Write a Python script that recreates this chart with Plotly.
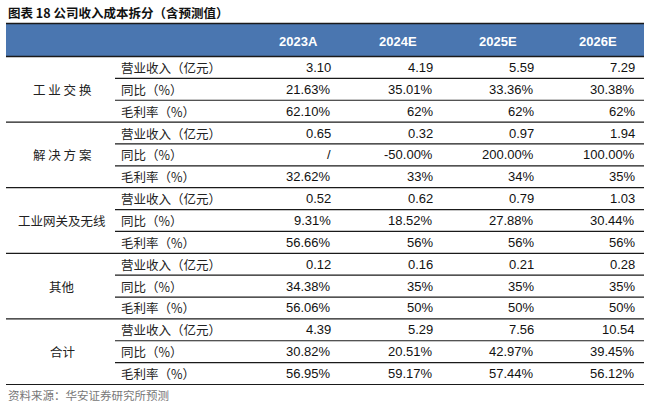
import plotly.graph_objects as go

title = "图表 18 公司收入成本拆分（含预测值）"
source = "资料来源：华安证券研究所预测"
years = ["2023A", "2024E", "2025E", "2026E"]
groups = ["工 业 交 换", "解 决 方 案", "工业网关及无线", "其他", "合计"]
metrics = ["营业收入（亿元）", "同比（%）", "毛利率（%）"]

ind_switch = [["3.10", "4.19", "5.59", "7.29"],
              ["21.63%", "35.01%", "33.36%", "30.38%"],
              ["62.10%", "62%", "62%", "62%"]]
solutions = [["0.65", "0.32", "0.97", "1.94"],
             ["/", "-50.00%", "200.00%", "100.00%"],
             ["32.62%", "33%", "34%", "35%"]]
gateway = [["0.52", "0.62", "0.79", "1.03"],
           ["9.31%", "18.52%", "27.88%", "30.44%"],
           ["56.66%", "56%", "56%", "56%"]]
others = [["0.12", "0.16", "0.21", "0.28"],
          ["34.38%", "35%", "35%", "35%"],
          ["56.06%", "50%", "50%", "50%"]]
total = [["4.39", "5.29", "7.56", "10.54"],
         ["30.82%", "20.51%", "42.97%", "39.45%"],
         ["56.95%", "59.17%", "57.44%", "56.12%"]]
group_data = [ind_switch, solutions, gateway, others, total]

W, H = 652, 406
left, right = 6, 644
hdr_top, hdr_bot = 23.5, 56.5
row_h = (384.5 - hdr_bot) / 15
val_x = [333, 435, 536, 637]
hdr_x = [320, 419, 519, 619]
grp_x = 62
met_x = 119
sub_left = 115

cjk = "Noto Sans CJK SC"
num = "Liberation Sans, Arial"

fig = go.Figure()
shapes = []
ann = []

# header bar
shapes.append(dict(type="rect", x0=left, x1=right, y0=hdr_top, y1=hdr_bot,
                   fillcolor="#4a76b0", line=dict(width=0), layer="below"))
shapes.append(dict(type="line", x0=left, x1=right, y0=hdr_top, y1=hdr_top,
                   line=dict(color="#1a1a1a", width=1.5)))
shapes.append(dict(type="line", x0=left, x1=right, y0=hdr_bot, y1=hdr_bot,
                   line=dict(color="#1a1a1a", width=1.5)))
for x, yr in zip(hdr_x, years):
    ann.append(dict(x=x, y=(hdr_top + hdr_bot) / 2 + 1, text=f"<b>{yr}</b>",
                    xanchor="right", yanchor="middle", showarrow=False,
                    font=dict(family=num, size=13, color="white")))

r = 0
for g, (gname, gdata) in enumerate(zip(groups, group_data)):
    g_top = hdr_bot + r * row_h
    ann.append(dict(x=grp_x, y=g_top + 1.5 * row_h, text=gname, xanchor="center",
                    yanchor="middle", showarrow=False,
                    font=dict(family=cjk, size=12.5, color="#222")))
    for m, (mname, vals) in enumerate(zip(metrics, gdata)):
        top = hdr_bot + r * row_h
        cy = top + row_h / 2
        ann.append(dict(x=met_x, y=cy, text=mname, xanchor="left", yanchor="middle",
                        showarrow=False, font=dict(family=cjk, size=12.5, color="#222")))
        for x, v in zip(val_x, vals):
            ann.append(dict(x=x, y=cy, text=v, xanchor="right", yanchor="middle",
                            showarrow=False, font=dict(family=num, size=13, color="#111")))
        r += 1
        bot = hdr_bot + r * row_h
        x0 = left if m == 2 else sub_left
        shapes.append(dict(type="line", x0=x0, x1=right, y0=bot, y1=bot,
                           line=dict(color="#1a1a1a", width=1.2)))

ann.append(dict(x=left, y=12.5, text=f"<b>{title}</b>", xanchor="left", yanchor="middle",
                showarrow=False, font=dict(family=cjk, size=12.5, color="#111")))
ann.append(dict(x=left, y=394.5, text=source, xanchor="left", yanchor="middle",
                showarrow=False, font=dict(family=cjk, size=11.5, color="#777")))

fig.add_trace(go.Scatter(x=[0, W], y=[0, H], mode="markers",
                         marker=dict(opacity=0), hoverinfo="skip", showlegend=False))
fig.update_layout(width=W, height=H, margin=dict(l=0, r=0, t=0, b=0),
                  paper_bgcolor="white", plot_bgcolor="white",
                  shapes=shapes, annotations=ann, showlegend=False,
                  xaxis=dict(range=[0, W], visible=False, fixedrange=True),
                  yaxis=dict(range=[H, 0], visible=False, fixedrange=True))
fig.write_html("out.html", config={"displayModeBar": False},
               post_script="document.body.style.margin='0px';document.body.style.overflow='hidden';")
